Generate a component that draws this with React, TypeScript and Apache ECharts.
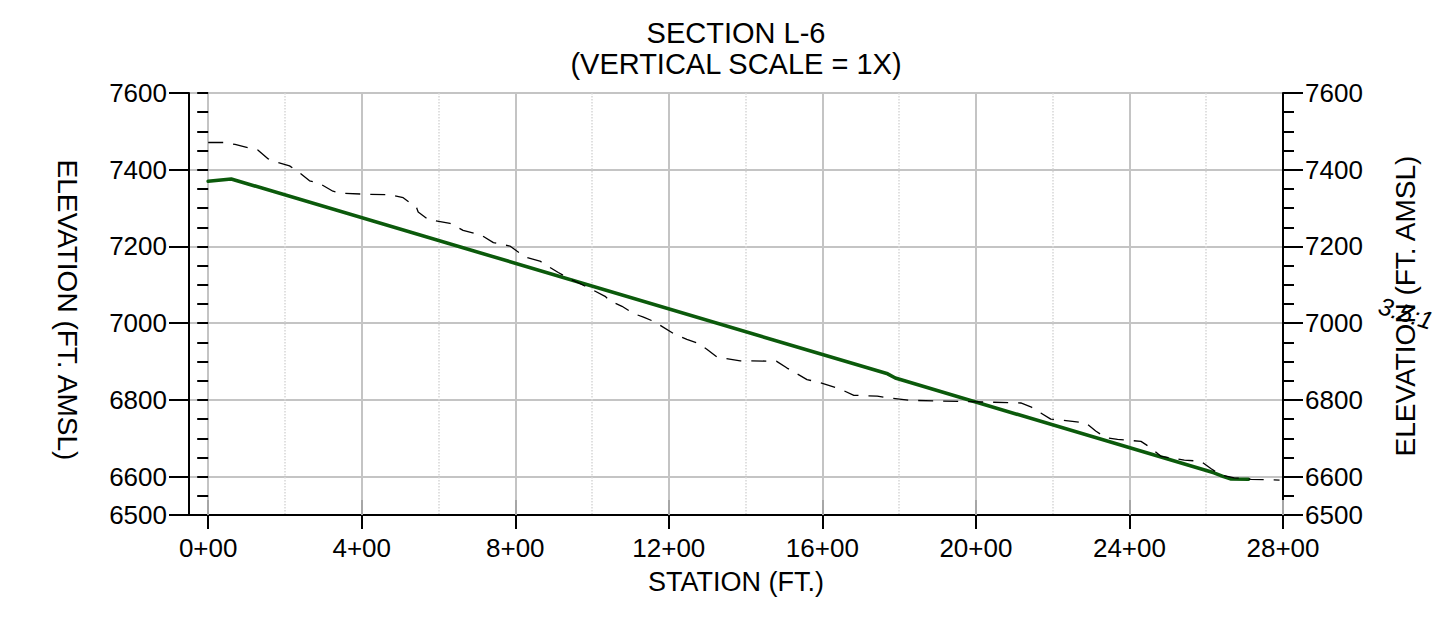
import React, { useEffect, useRef } from "react";
import * as echarts from "echarts";

const FONT = "'Liberation Sans', Arial, Helvetica, sans-serif";

// Station tick values (ft) and their labels
const stationTicks = [0, 400, 800, 1200, 1600, 2000, 2400, 2800];
const minorStations = [200, 600, 1000, 1400, 1800, 2200, 2600];
const elevationLabels = [6500, 6600, 6800, 7000, 7200, 7400, 7600];

// Proposed grade (green solid line): [station, elevation]
const proposedGrade: number[][] = [
  [0, 7370], [60, 7376], [1770, 6868], [1790, 6857],
  [2620, 6610], [2645, 6600], [2665, 6594], [2710, 6593],
];

// Existing ground (black dashed line): [station, elevation]
const existingGround: number[][] = [
  [0, 7471], [40, 7471], [70, 7466], [130, 7451], [155, 7429], [180, 7419],
  [212, 7410], [238, 7392], [264, 7371], [290, 7364], [325, 7344], [345, 7339],
  [412, 7336], [475, 7335], [508, 7327], [543, 7301], [547, 7290], [573, 7270],
  [630, 7260], [664, 7242], [712, 7229], [743, 7210], [786, 7201], [804, 7188],
  [830, 7171], [864, 7162], [886, 7148], [912, 7132], [943, 7115], [969, 7103],
  [1003, 7086], [1034, 7070], [1047, 7058], [1078, 7044], [1108, 7025], [1134, 7016],
  [1164, 7003], [1212, 6973], [1247, 6958], [1277, 6947], [1299, 6932], [1325, 6912],
  [1386, 6902], [1480, 6901], [1508, 6883], [1560, 6853], [1595, 6845], [1647, 6828],
  [1682, 6812], [1743, 6810], [1773, 6805], [1830, 6799], [1908, 6797], [2004, 6795],
  [2117, 6792], [2143, 6782], [2169, 6766], [2195, 6750], [2225, 6747], [2286, 6740],
  [2312, 6719], [2338, 6702], [2369, 6697], [2430, 6692], [2456, 6675], [2482, 6653],
  [2543, 6643], [2586, 6640], [2612, 6621], [2638, 6604], [2673, 6597], [2717, 6593],
  [2791, 6591],
];

const X_MIN = -50;
const X_MAX = 2800;
const Y_MIN = 6500;
const Y_MAX = 7600;

const GRID = { left: 189, right: 161, top: 93, bottom: 102 };

export default function App() {
  const ref = useRef<HTMLDivElement>(null);

  useEffect(() => {
    if (!ref.current) return;
    const chart = echarts.init(ref.current, null, { renderer: "svg" });

    const stationFmt = (v: number) => `${Math.round(v / 100)}+00`;

    const majorY = (position: "left" | "right", grid: boolean) => ({
      type: "value",
      gridIndex: 0,
      position,
      min: Y_MIN,
      max: Y_MAX,
      axisLine: { show: true, onZero: false, lineStyle: { color: "#000", width: 2 } },
      axisTick: {
        show: true,
        customValues: elevationLabels,
        length: 20,
        lineStyle: { color: "#000", width: 2 },
      },
      axisLabel: {
        show: true,
        customValues: elevationLabels,
        formatter: (v: number) => String(Math.round(v)),
        fontSize: 26,
        fontFamily: FONT,
        color: "#000",
        margin: 22,
      },
      splitLine: { show: grid, lineStyle: { color: "#c4c4c4", width: 2 } },
    });

    const minorY = (position: "left" | "right") => ({
      type: "value",
      gridIndex: 1,
      position,
      min: Y_MIN,
      max: Y_MAX,
      interval: 50,
      axisLine: { show: false },
      axisTick: { show: true, length: 11, lineStyle: { color: "#000", width: 2 } },
      axisLabel: { show: false },
      splitLine: { show: false },
    });

    chart.setOption({
      animation: false,
      backgroundColor: "#fff",
      grid: [
        { ...GRID, show: true, borderColor: "#000", borderWidth: 2, backgroundColor: "transparent" },
        { ...GRID, show: false },
        { ...GRID, show: false },
      ],
      xAxis: [
        {
          type: "value",
          gridIndex: 0,
          position: "bottom",
          min: X_MIN,
          max: X_MAX,
          axisLine: { show: true, onZero: false, lineStyle: { color: "#000", width: 2 } },
          axisTick: {
            show: true,
            customValues: stationTicks,
            length: 14,
            lineStyle: { color: "#000", width: 2 },
          },
          axisLabel: {
            show: true,
            customValues: stationTicks,
            formatter: stationFmt,
            fontSize: 26,
            fontFamily: FONT,
            color: "#000",
            margin: 20,
          },
          splitLine: { show: true, lineStyle: { color: "#c4c4c4", width: 2 } },
        },
        {
          type: "value",
          gridIndex: 1,
          position: "top",
          min: X_MIN,
          max: X_MAX,
          axisLine: { show: false },
          axisTick: { show: false, customValues: minorStations },
          axisLabel: { show: false, customValues: minorStations },
          splitLine: { show: true, lineStyle: { color: "#d6d6d6", width: 1.5, type: "dotted" } },
        },
        {
          type: "value",
          gridIndex: 2,
          position: "bottom",
          min: X_MIN,
          max: X_MAX,
          axisLine: { show: false },
          axisTick: {
            show: true,
            inside: true,
            customValues: stationTicks,
            length: 15,
            lineStyle: { color: "#a6a6a6", width: 2 },
          },
          axisLabel: { show: false },
          splitLine: { show: false },
        },
      ],
      yAxis: [
        majorY("left", true),
        majorY("right", false),
        minorY("left"),
        minorY("right"),
        {
          type: "value",
          gridIndex: 2,
          min: Y_MIN,
          max: Y_MAX,
          show: false,
        },
      ],
      series: [
        {
          name: "Proposed grade",
          type: "line",
          xAxisIndex: 0,
          yAxisIndex: 0,
          data: proposedGrade,
          showSymbol: false,
          symbol: "none",
          lineStyle: { color: "#0b5a0b", width: 3.6, cap: "round", join: "round" },
          z: 3,
        },
        {
          name: "Existing ground",
          type: "line",
          xAxisIndex: 0,
          yAxisIndex: 0,
          data: existingGround,
          showSymbol: false,
          symbol: "none",
          lineStyle: { color: "#000", width: 1.3, type: [15, 10] },
          z: 4,
        },
      ],
      graphic: [
        {
          type: "text",
          x: 736,
          y: 33,
          style: {
            text: "SECTION L-6",
            font: `29px ${FONT}`,
            fill: "#000",
            textAlign: "center",
            textVerticalAlign: "middle",
          },
        },
        {
          type: "text",
          x: 736,
          y: 64,
          style: {
            text: "(VERTICAL SCALE = 1X)",
            font: `29px ${FONT}`,
            fill: "#000",
            textAlign: "center",
            textVerticalAlign: "middle",
          },
        },
        {
          type: "text",
          x: 736,
          y: 582,
          style: {
            text: "STATION (FT.)",
            font: `27px ${FONT}`,
            fill: "#000",
            textAlign: "center",
            textVerticalAlign: "middle",
          },
        },
        {
          type: "text",
          x: 67,
          y: 310,
          rotation: -Math.PI / 2,
          style: {
            text: "ELEVATION (FT. AMSL)",
            font: `28px ${FONT}`,
            fill: "#000",
            textAlign: "center",
            textVerticalAlign: "middle",
          },
        },
        {
          type: "text",
          x: 1405,
          y: 306,
          rotation: Math.PI / 2,
          style: {
            text: "ELEVATION (FT. AMSL)",
            font: `28px ${FONT}`,
            fill: "#000",
            textAlign: "center",
            textVerticalAlign: "middle",
          },
        },
        {
          type: "text",
          x: 1406,
          y: 313,
          rotation: -0.3,
          style: {
            text: "3.5:1",
            font: `italic 25px ${FONT}`,
            fill: "#000",
            textAlign: "center",
            textVerticalAlign: "middle",
          },
        },
      ],
    });

    return () => chart.dispose();
  }, []);

  return (
    <div
      ref={ref}
      style={{ position: "fixed", left: 0, top: 0, width: 1444, height: 617, background: "#fff" }}
    />
  );
}
